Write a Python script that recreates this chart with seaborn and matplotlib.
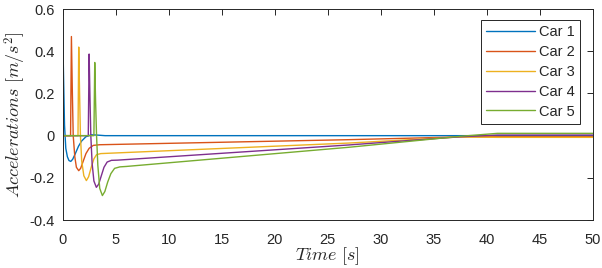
import pandas as pd
import matplotlib
matplotlib.use('Agg')
import matplotlib.pyplot as plt
import seaborn as sns

# values (time in s, acceleration in m/s^2)
car1_t = [0, 0.08, 0.18, 0.3, 0.45, 0.6, 0.77, 0.95, 1.2, 1.5, 1.8, 2.2, 2.7, 3.2, 4.0, 50]
car1_a = [0.52, 0.3, 0.05, -0.06, -0.1, -0.118, -0.122, -0.112, -0.085, -0.05, -0.025, -0.005, 0.004, 0.003, 0, 0]

car2_t = [0, 0.75, 0.83, 0.92, 1.0, 1.15, 1.3, 1.52, 1.7, 1.95, 2.2, 2.5, 2.9, 3.5, 27, 37.5, 41, 50]
car2_a = [0, 0, 0.47, 0.2, 0.0, -0.1, -0.15, -0.166, -0.155, -0.12, -0.085, -0.06, -0.046, -0.043, -0.019, -0.006, -0.005, -0.005]

car3_t = [0, 1.45, 1.52, 1.6, 1.68, 1.8, 2.0, 2.24, 2.45, 2.7, 2.95, 3.2, 3.6, 27, 37.5, 41, 50]
car3_a = [0, 0, 0.42, 0.2, 0.0, -0.12, -0.19, -0.213, -0.195, -0.15, -0.11, -0.09, -0.085, -0.035, -0.006, -0.008, -0.008]

car4_t = [0, 2.42, 2.5, 2.58, 2.66, 2.78, 2.95, 3.18, 3.4, 3.65, 3.9, 4.2, 4.6, 5.2, 27, 37.5, 41, 50]
car4_a = [0, 0, 0.387, 0.18, 0.0, -0.13, -0.215, -0.245, -0.23, -0.19, -0.15, -0.125, -0.117, -0.116, -0.044, -0.005, 0.003, 0.003]

car5_t = [0, 2.95, 3.03, 3.11, 3.2, 3.32, 3.5, 3.75, 3.98, 4.25, 4.55, 4.9, 5.4, 6.0, 27, 37.5, 41, 50]
car5_a = [0, 0, 0.347, 0.16, 0.0, -0.14, -0.25, -0.284, -0.265, -0.22, -0.18, -0.155, -0.148, -0.146, -0.055, -0.003, 0.011, 0.011]

car_names = ['Car 1', 'Car 2', 'Car 3', 'Car 4', 'Car 5']
car_times = [car1_t, car2_t, car3_t, car4_t, car5_t]
car_accs = [car1_a, car2_a, car3_a, car4_a, car5_a]
colors = ['#0072BD', '#D95319', '#EDB120', '#7E2F8E', '#77AC30']

frames = []
for name, t, a in zip(car_names, car_times, car_accs):
    frames.append(pd.DataFrame({'t': t, 'a': a, 'car': name}))
df = pd.concat(frames, ignore_index=True)

sns.set_style('white')
plt.rcParams['font.family'] = ['Liberation Sans', 'DejaVu Sans']
plt.rcParams['mathtext.fontset'] = 'cm'

fig = plt.figure(figsize=(6.02, 2.68), dpi=100)
ax = fig.add_axes([0.104, 0.179, 0.881, 0.787])

sns.lineplot(data=df, x='t', y='a', hue='car', palette=colors, estimator=None,
             sort=False, linewidth=1.0, ax=ax)

ax.set_xlim(0, 50)
ax.set_ylim(-0.4, 0.6)
ax.set_xticks(range(0, 51, 5))
ax.set_yticks([-0.4, -0.2, 0, 0.2, 0.4, 0.6])
ax.set_yticklabels(['-0.4', '-0.2', '0', '0.2', '0.4', '0.6'])
ax.tick_params(direction='in', length=4, width=0.7, top=True, right=True,
               labelsize=10.5, colors='#262626')
ax.tick_params(axis='x', pad=9)
ax.tick_params(axis='y', pad=6)
for s in ax.spines.values():
    s.set_color('#262626')
    s.set_linewidth(0.7)

ax.set_xlabel(r'$Time\ [s]$', fontsize=13, labelpad=-1)
ax.set_ylabel(r'$Accelerations\ [m/s^2]$', fontsize=13, labelpad=1)

handles, labels = ax.get_legend_handles_labels()
leg = ax.legend(handles, labels, loc='upper right', bbox_to_anchor=(0.9755, 0.948),
                borderaxespad=0, fontsize=10.5, handlelength=3.4, handletextpad=0.25,
                labelspacing=0.4, borderpad=0.35, fancybox=False,
                framealpha=1, edgecolor='#262626')
leg.get_frame().set_linewidth(0.7)

fig.savefig('out.png', dpi=100)
